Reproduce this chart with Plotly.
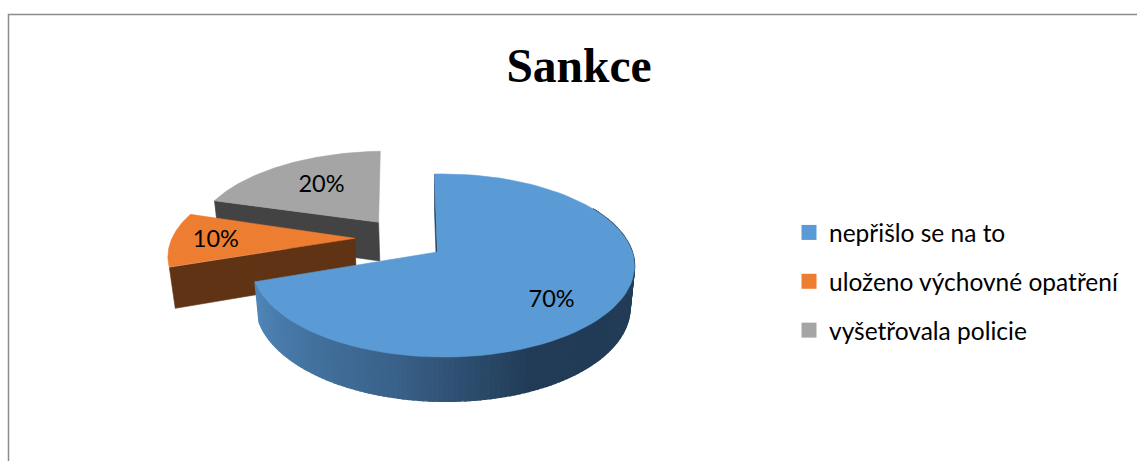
import numpy as np
import plotly.graph_objects as go

title = "Sankce"
categories = ["nepřišlo se na to", "uloženo výchovné opatření", "vyšetřovala policie"]
values = [70, 10, 20]
top_colors = ["#5B9BD5", "#ED7D31", "#A5A5A5"]
side_colors = ["#264059", "#603314", "#434343"]

# canvas is one unit per pixel, the pie is projected in perspective onto it
W, H = 1137, 461
CX, CY = 437, 252
TILT_Y = 89.5
PERSP = 0.1475
DEPTH = 41
ROTATION = -1
# per slice: explosion offset in pie radii, horizontal scale, skew, small turns
slice_view = [
    dict(dx=0.002, dy=0.0, s=189, skew=-0.03, turn=0, label_r=0.74, label_turn=7),
    dict(dx=-0.45, dy=0.156, s=187, skew=0.0, turn=0, label_r=0.755, label_turn=-1.5),
    dict(dx=-0.325, dy=0.35, s=189, skew=0.0, turn=-1, label_r=0.6, label_turn=0),
]
blue_ramp = [(252, "#5189BC"), (191, "#3A628A"), (154, "#223B56"), (60, "#253F59")]


def project(xw, yw, view, z=0.0):
    w = 1 + PERSP * yw + view["skew"] * xw - 0.022 * z
    return CX + view["s"] * xw / w, CY - (TILT_Y * yw + DEPTH * z) / w


def rim(a0, a1, view, z=0.0, n=90):
    phi = np.radians(np.linspace(a0, a1, n))
    return project(view["dx"] + np.sin(phi), view["dy"] + np.cos(phi), view, z)


def polygon(x, y, color, width=0.6):
    return go.Scatter(
        x=np.append(x, x[0]),
        y=np.append(y, y[0]),
        mode="lines",
        fill="toself",
        fillcolor=color,
        line=dict(color=color, width=width),
        hoverinfo="skip",
        showlegend=False,
    )


def wedge(a0, a1, view, color):
    rx, ry = rim(a0, a1, view)
    ax, ay = project(view["dx"], view["dy"], view)
    return polygon(np.r_[ax, rx], np.r_[ay, ry], color)


def radial_face(angle, view, color):
    rx, ry = rim(angle, angle, view, n=1)
    bx, by = rim(angle, angle, view, z=-1, n=1)
    ax, ay = project(view["dx"], view["dy"], view)
    cx, cy = project(view["dx"], view["dy"], view, z=-1)
    return polygon(np.r_[ax, rx, bx, cx], np.r_[ay, ry, by, cy], color)


def ramp_color(angle):
    stops = blue_ramp[::-1]
    pos = [a for a, _ in stops]
    rgb = [[int(c[i:i + 2], 16) for i in (1, 3, 5)] for _, c in stops]
    return "rgb(%d,%d,%d)" % tuple(np.interp(angle, pos, [c[k] for c in rgb]) for k in range(3))


total = sum(values)
edges = np.r_[0, np.cumsum(values)] * 360 / total + ROTATION
fig = go.Figure()

# gray first, then orange, then the big slice so the overlaps come out right
for i in [2, 1]:
    view = slice_view[i]
    a0, a1 = edges[i] + view["turn"], edges[i + 1] + view["turn"]
    fig.add_trace(radial_face(a0, view, side_colors[i]))
    fig.add_trace(wedge(a0, a1, view, top_colors[i]))

view = slice_view[0]
a0, a1 = edges[0], edges[1]
fig.add_trace(radial_face(a0, view, side_colors[0]))
steps = np.linspace(a1, 60, 140)
for s0, s1 in zip(steps[:-1], steps[1:]):
    tx, ty = rim(s0, s1, view, n=3)
    bx, by = rim(s1, s0, view, z=-1, n=3)
    fig.add_trace(polygon(np.r_[tx, bx], np.r_[ty, by], ramp_color((s0 + s1) / 2), width=1.5))
fig.add_trace(wedge(a0, a1, view, top_colors[0]))

# percentage labels sit near the bisector of each slice
lab_x, lab_y, lab_text = [], [], []
for i, v in enumerate(values):
    view = slice_view[i]
    mid = np.radians((edges[i] + edges[i + 1]) / 2 + view["label_turn"])
    px, py = project(
        view["dx"] + view["label_r"] * np.sin(mid),
        view["dy"] + view["label_r"] * np.cos(mid),
        view,
    )
    lab_x.append(px)
    lab_y.append(py)
    lab_text.append(f"{round(v / total * 100)}%")
fig.add_trace(
    go.Scatter(
        x=lab_x,
        y=lab_y,
        text=lab_text,
        mode="text",
        textposition="middle center",
        textfont=dict(family="Lato", size=23.5, color="#000000"),
        hoverinfo="skip",
        showlegend=False,
    )
)

# empty traces only to get the legend swatches
for name, color in zip(categories, top_colors):
    fig.add_trace(
        go.Scatter(
            x=[None],
            y=[None],
            name=name,
            legendgroup=name,
            mode="markers",
            marker=dict(symbol="square", size=15, color=color),
        )
    )

fig.update_layout(
    width=W,
    height=H,
    margin=dict(l=0, r=0, t=0, b=0),
    paper_bgcolor="#FFFFFF",
    plot_bgcolor="#FFFFFF",
    font=dict(family="Lato", color="#000000"),
    title=dict(
        text=f"<b>{title}</b>",
        x=579 / W,
        xanchor="center",
        y=1 - 65 / H,
        yanchor="middle",
        font=dict(family="Liberation Serif", size=47.5, color="#000000"),
    ),
    xaxis=dict(range=[0, W], visible=False, fixedrange=True),
    yaxis=dict(range=[H, 0], visible=False, fixedrange=True),
    showlegend=True,
    legend=dict(
        x=789 / W,
        xanchor="left",
        y=1 - 210 / H,
        yanchor="top",
        font=dict(family="Lato", size=24.5, color="#000000"),
        tracegroupgap=14,
        bgcolor="rgba(0,0,0,0)",
    ),
    shapes=[
        dict(
            type="path",
            path=f"M 8.5 {H} L 8.5 14.5 L {W} 14.5",
            xref="x",
            yref="y",
            line=dict(color="#8C8C8C", width=1.5),
            layer="above",
        )
    ],
)

fig.write_html(
    "out.html",
    config=dict(displayModeBar=False),
    post_script="document.body.style.margin='0';",
)
